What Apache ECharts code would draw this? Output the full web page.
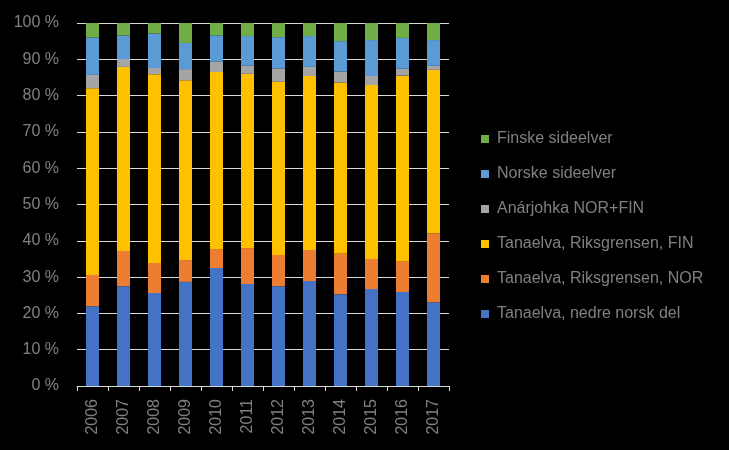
<!DOCTYPE html>
<html><head><meta charset="utf-8">
<script src="https://cdn.jsdelivr.net/npm/echarts@6/dist/echarts.min.js"></script>
<style>html,body{margin:0;padding:0;background:#000;}#c{width:729px;height:450px;}</style>
</head><body><div id="c"></div>
<script>
const years = ['2006','2007','2008','2009','2010','2011','2012','2013','2014','2015','2016','2017'];
const yTicks = [0,10,20,30,40,50,60,70,80,90,100];
const nedre   = [22.0,27.5,25.6,28.7,32.5,28.1,27.5,28.9,25.3,26.7,25.9,23.1];
const rikNor  = [8.6,9.7,8.3,6.0,5.2,9.9,8.6,8.6,11.1,8.3,8.5,19.0];
const rikFin  = [51.4,50.7,52.0,49.5,48.8,48.0,47.7,47.9,47.2,47.9,51.1,45.0];
const anar    = [3.7,2.1,1.7,3.1,2.8,2.2,3.7,2.5,3.0,2.5,1.9,1.1];
const norske  = [10.3,6.6,9.5,7.2,7.3,8.2,8.6,8.5,8.4,9.9,8.5,7.1];
const finske  = [4.0,3.4,2.9,5.5,3.4,3.6,3.9,3.6,5.0,4.7,4.1,4.7];
const names = ['Tanaelva, nedre norsk del','Tanaelva, Riksgrensen, NOR','Tanaelva, Riksgrensen, FIN','Anárjohka NOR+FIN','Norske sideelver','Finske sideelver'];
const colors = ['#4472C4','#ED7D31','#FFC000','#A5A5A5','#5B9BD5','#70AD47'];
const data = [nedre, rikNor, rikFin, anar, norske, finske];

const font = 'Liberation Sans';
const txt = '#808080';
const chart = echarts.init(document.getElementById('c'));
chart.setOption({
  backgroundColor: '#000',
  animation: false,
  grid: {left: 77, right: 280, top: 23, bottom: 64},
  legend: {
    orient: 'vertical', left: 481, top: 131, padding: 0, itemWidth: 8, itemHeight: 8, itemGap: 19,
    icon: 'rect',
    data: names.slice().reverse(),
    textStyle: {color: txt, fontFamily: font, fontSize: 16, padding: [0,0,0,3]}
  },
  xAxis: {
    type: 'category', data: years,
    axisLine: {lineStyle: {color: '#d9d9d9', width: 1}},
    axisTick: {show: true, length: 5, lineStyle: {color: '#d9d9d9'}},
    axisLabel: {rotate: 90, color: txt, fontFamily: font, fontSize: 16, margin: 13}
  },
  yAxis: {
    type: 'value', min: yTicks[0], max: yTicks[yTicks.length-1], interval: 10,
    axisLine: {show: false}, axisTick: {show: false},
    splitLine: {lineStyle: {color: '#d9d9d9', width: 1}},
    axisLabel: {color: txt, fontFamily: font, fontSize: 16, margin: 18, formatter: '{value} %'}
  },
  series: data.map((d, i) => ({
    name: names[i], type: 'bar', stack: 'all', data: d, barWidth: 13,
    itemStyle: {color: colors[i]}
  }))
});
</script></body></html>
